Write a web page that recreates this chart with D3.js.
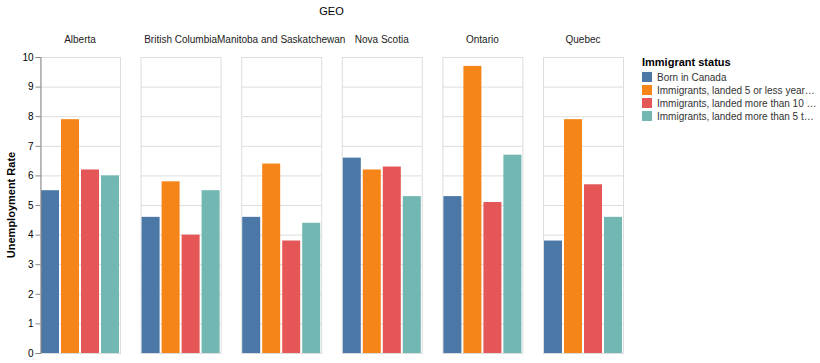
<!DOCTYPE html>
<html>
<head>
<meta charset="utf-8">
<script src="https://cdn.jsdelivr.net/npm/d3@7"></script>
<style>
  body { margin: 0; background: #fff; }
  text { font-family: "Liberation Sans", Arial, sans-serif; fill: #000; }
</style>
</head>
<body>
<div class="chart"></div>
<script>
// facet columns and series
var regions = ["Alberta", "British Columbia", "Manitoba and Saskatchewan", "Nova Scotia", "Ontario", "Quebec"];
var statuses = [
  "Born in Canada",
  "Immigrants, landed 5 or less years earlier",
  "Immigrants, landed more than 10 years earlier",
  "Immigrants, landed more than 5 to 10 years earlier"
];
var colors = ["#4c78a8", "#f58518", "#e45756", "#72b7b2"];

// unemployment rate per region, one array per status
var bornInCanada   = [5.5, 4.6, 4.6, 6.6, 5.3, 3.8];
var landed5OrLess  = [7.9, 5.8, 6.4, 6.2, 9.7, 7.9];
var landedOver10   = [6.2, 4.0, 3.8, 6.3, 5.1, 5.7];
var landed5To10    = [6.0, 5.5, 4.4, 5.3, 6.7, 4.6];
var yTicks = [0, 1, 2, 3, 4, 5, 6, 7, 8, 9, 10];

var seriesValues = [bornInCanada, landed5OrLess, landedOver10, landed5To10];

var svgWidth = 820;
var svgHeight = 363;

var margin = { top: 57, left: 40 };
var panelWidth = 80;
var panelHeight = 296;
var panelStep = 100.6;

var svg = d3.select(".chart")
  .append("svg")
  .attr("width", svgWidth)
  .attr("height", svgHeight);

var chartGroup = svg.append("g")
  .attr("transform", `translate(${margin.left}, ${margin.top})`);

var xFacet = d3.scaleBand()
  .domain(regions)
  .range([0, panelStep * regions.length])
  .paddingInner(0);

var xBand = d3.scaleBand()
  .domain(statuses)
  .range([0, panelWidth])
  .paddingInner(0.1)
  .paddingOuter(0.05);

var yScale = d3.scaleLinear()
  .domain([0, 10])
  .range([panelHeight, 0]);

var color = d3.scaleOrdinal().domain(statuses).range(colors);

// title
var facetSpan = panelStep * (regions.length - 1) + panelWidth;
svg.append("text")
  .attr("x", margin.left + facetSpan / 2)
  .attr("y", 15)
  .attr("text-anchor", "middle")
  .style("font-size", "11px")
  .text("GEO");

regions.forEach(function(region, i) {
  var g = chartGroup.append("g")
    .attr("transform", `translate(${xFacet(region)}, 0)`);

  // header
  g.append("text")
    .attr("x", panelWidth / 2)
    .attr("y", -14)
    .attr("text-anchor", "middle")
    .style("font-size", "10px")
    .style("fill", "#222")
    .text(region);

  // grid
  g.selectAll(".grid")
    .data(yTicks)
    .enter()
    .append("line")
    .attr("x1", 0)
    .attr("x2", panelWidth)
    .attr("y1", d => yScale(d) + 0.5)
    .attr("y2", d => yScale(d) + 0.5)
    .attr("stroke", "#ddd");

  // frame
  g.append("rect")
    .attr("x", 0.5)
    .attr("y", 0.5)
    .attr("width", panelWidth)
    .attr("height", panelHeight)
    .attr("fill", "none")
    .attr("stroke", "#ddd");

  // bars
  g.selectAll(".bar")
    .data(statuses.map((s, k) => ({ status: s, value: seriesValues[k][i] })))
    .enter()
    .append("rect")
    .attr("x", d => xBand(d.status))
    .attr("y", d => yScale(d.value))
    .attr("width", xBand.bandwidth())
    .attr("height", d => panelHeight - yScale(d.value))
    .attr("fill", d => color(d.status));
});

// left axis
var leftAxis = d3.axisLeft(yScale).tickValues(yTicks).tickSize(5).tickPadding(2);
var axisG = chartGroup.append("g")
  .attr("transform", "translate(0.5, 0)")
  .call(leftAxis);
axisG.select(".domain").attr("stroke", "#888");
axisG.selectAll(".tick line").attr("stroke", "#888");
axisG.selectAll(".tick text")
  .attr("fill", "#222")
  .style("font-family", "Liberation Sans, Arial, sans-serif")
  .style("font-size", "10px");

chartGroup.append("text")
  .attr("transform", `translate(-25, ${panelHeight / 2}) rotate(-90)`)
  .attr("text-anchor", "middle")
  .style("font-size", "11px")
  .style("font-weight", "bold")
  .text("Unemployment Rate");

// legend
var legend = svg.append("g")
  .attr("transform", "translate(642, 57)");

legend.append("text")
  .attr("x", 0)
  .attr("y", 9)
  .style("font-size", "11px")
  .style("font-weight", "bold")
  .text("Immigrant status");

var rows = legend.selectAll(".row")
  .data(statuses)
  .enter()
  .append("g")
  .attr("transform", (d, i) => `translate(0, ${15 + i * 13})`);

rows.append("rect")
  .attr("width", 10)
  .attr("height", 10)
  .attr("fill", d => color(d));

rows.append("text")
  .attr("x", 15)
  .attr("y", 8.5)
  .style("font-size", "10px")
  .style("fill", "#333")
  .text(d => d)
  .each(function(d) {
    // truncate like the label limit
    var el = d3.select(this);
    var full = d;
    if (this.getComputedTextLength() <= 160) return;
    var n = full.length;
    while (n > 0) {
      el.text(full.slice(0, n) + "…");
      if (this.getComputedTextLength() <= 161) break;
      n--;
    }
  });
</script>
</body>
</html>
